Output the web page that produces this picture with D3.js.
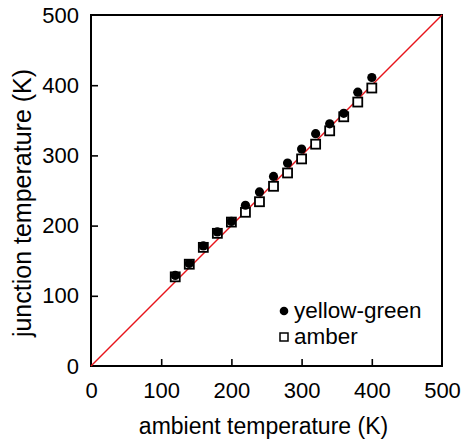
<!DOCTYPE html>
<html lang="en">
<head>
    <meta charset="utf-8">
    <title>Junction vs ambient temperature</title>
    <script src="https://d3js.org/d3.v7.min.js"></script>
    <style type="text/css">
        body { margin: 0; background: #fff; }
        text { font-family: "Liberation Sans", Arial, sans-serif; fill: #000; }
    </style>
</head>
<body>
<script type="text/javascript">
    //Data
    var ambient = [120, 140, 160, 180, 200, 220, 240, 260, 280, 300, 320, 340, 360, 380, 400];
    var yellowGreen = [129, 146, 171, 191, 206, 229, 248, 270, 289, 309, 331, 345, 360, 390, 411];
    var amber = [127, 145, 169, 189, 205, 219, 234, 256, 275, 295, 316, 335, 355, 376, 396];
    var tickValues = [0, 100, 200, 300, 400, 500];
    var legendLabels = ["yellow-green", "amber"];

    var w = 461;
    var h = 447;
    var padLeft = 91, padRight = 442, padTop = 15, padBottom = 366;

    var xScale = d3.scaleLinear().domain([0, 500]).range([padLeft, padRight]);
    var yScale = d3.scaleLinear().domain([0, 500]).range([padBottom, padTop]);

    var svg = d3.select("body")
        .append("svg")
        .attr("width", w)
        .attr("height", h);

    //Axes, ticks point inward
    var xAxis = d3.axisBottom(xScale)
        .tickValues(tickValues)
        .tickSizeInner(-7)
        .tickSizeOuter(0)
        .tickPadding(16);
    var yAxis = d3.axisLeft(yScale)
        .tickValues(tickValues)
        .tickSizeInner(-7)
        .tickSizeOuter(0)
        .tickPadding(12);

    var gx = svg.append("g")
        .attr("transform", "translate(0," + padBottom + ")")
        .call(xAxis);
    var gy = svg.append("g")
        .attr("transform", "translate(" + padLeft + ",0)")
        .call(yAxis);
    [gx, gy].forEach(function(g) {
        g.select(".domain").remove();
        g.selectAll(".tick line").attr("stroke", "#000").attr("stroke-width", 1.6);
        g.selectAll(".tick text")
            .attr("font-size", "22px")
            .attr("font-family", "Liberation Sans, Arial, sans-serif")
            .attr("fill", "#000");
        //no tick marks at the corners
        g.selectAll(".tick").filter(function(d) { return d === 0 || d === 500; }).select("line").remove();
    });

    //Frame
    svg.append("rect")
        .attr("x", padLeft)
        .attr("y", padTop)
        .attr("width", padRight - padLeft)
        .attr("height", padBottom - padTop)
        .attr("fill", "none")
        .attr("stroke", "#000")
        .attr("stroke-width", 2);

    //1:1 line
    svg.append("line")
        .attr("x1", xScale(0))
        .attr("y1", yScale(0))
        .attr("x2", xScale(500))
        .attr("y2", yScale(500))
        .attr("stroke", "#e8141b")
        .attr("stroke-width", 1.5);

    //amber squares
    svg.selectAll("rect.amber")
        .data(amber)
        .enter()
        .append("rect")
        .attr("class", "amber")
        .attr("x", function(d, i) { return xScale(ambient[i]) - 4.5; })
        .attr("y", function(d) { return yScale(d) - 4.5; })
        .attr("width", 9)
        .attr("height", 9)
        .attr("fill", "#fff")
        .attr("stroke", "#000")
        .attr("stroke-width", 1.8);

    //yellow-green circles
    svg.selectAll("circle.yg")
        .data(yellowGreen)
        .enter()
        .append("circle")
        .attr("class", "yg")
        .attr("cx", function(d, i) { return xScale(ambient[i]); })
        .attr("cy", function(d) { return yScale(d); })
        .attr("r", 4.6)
        .attr("fill", "#000");

    //Legend
    var legend = svg.append("g");
    legend.append("circle")
        .attr("cx", 284)
        .attr("cy", 311)
        .attr("r", 4.3)
        .attr("fill", "#000");
    legend.append("rect")
        .attr("x", 280)
        .attr("y", 333)
        .attr("width", 8)
        .attr("height", 8)
        .attr("fill", "#fff")
        .attr("stroke", "#000")
        .attr("stroke-width", 1.5);
    legend.selectAll("text")
        .data(legendLabels)
        .enter()
        .append("text")
        .attr("x", 294)
        .attr("y", function(d, i) { return 318 + i * 26; })
        .attr("font-size", "22.5px")
        .text(function(d) { return d; });

    //Axis labels
    svg.append("text")
        .attr("x", (padLeft + padRight) / 2 - 3)
        .attr("y", 434)
        .attr("text-anchor", "middle")
        .attr("font-size", "23px")
        .text("ambient temperature (K)");
    svg.append("text")
        .attr("transform", "translate(31," + 203 + ") rotate(-90)")
        .attr("text-anchor", "middle")
        .attr("font-size", "25px")
        .text("junction temperature (K)");
</script>
</body>
</html>
